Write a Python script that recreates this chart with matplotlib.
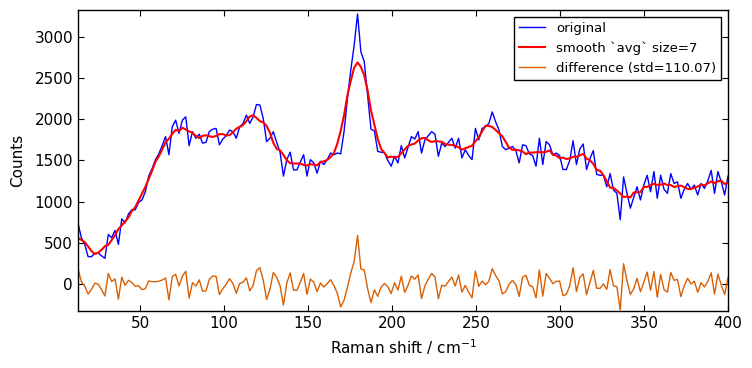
import numpy as np
import matplotlib
matplotlib.use('Agg')
from matplotlib import pyplot as plt

# raw spectrum, one value every ~2 cm-1 from 13 to 400
original = [
    740, 560, 480, 330, 330, 370, 375, 340, 310, 600,
    560, 650, 480, 790, 740, 850, 900, 900, 990, 1020,
    1120, 1310, 1400, 1510, 1580, 1680, 1790, 1570, 1910, 1990,
    1830, 1990, 2030, 1680, 1850, 1770, 1820, 1710, 1720, 1850,
    1880, 1890, 1690, 1760, 1800, 1870, 1850, 1770, 1910, 1950,
    2050, 1950, 2030, 2180, 2175, 2010, 1730, 1770, 1850, 1720,
    1600, 1310, 1510, 1600, 1385, 1385, 1480, 1570, 1310, 1510,
    1470, 1345, 1490, 1450, 1510, 1590, 1570, 1590, 1580, 1850,
    2250, 2600, 2900, 3280, 2820, 2700, 2290, 1880, 1860, 1610,
    1600, 1595, 1500, 1430, 1550, 1470, 1680, 1530, 1660, 1790,
    1760, 1850, 1590, 1750, 1800, 1850, 1820, 1550, 1710, 1670,
    1720, 1770, 1650, 1770, 1530, 1630, 1560, 1510, 1890, 1750,
    1890, 1910, 1950, 2090, 1970, 1870, 1670, 1630, 1650, 1670,
    1620, 1470, 1690, 1680, 1580, 1560, 1430, 1770, 1450, 1730,
    1690, 1570, 1590, 1560, 1390, 1390, 1500, 1740, 1450, 1640,
    1700, 1390, 1520, 1620, 1330, 1320, 1320, 1180, 1340, 1140,
    1100, 780, 1300, 1100, 920, 1050, 1180, 1020, 1200, 1320,
    1120, 1365, 1040, 1320, 1150, 1100, 1340, 1220, 1240, 1040,
    1150, 1220, 1150, 1200, 1080, 1220, 1160, 1250, 1380, 1100,
    1365, 1240, 1080, 1310,
]
shift = np.linspace(13, 400, len(original))
size = 7

original = np.array(original, dtype=float)
pad = size // 2
padded = np.pad(original, pad, mode='symmetric')
smooth = np.convolve(padded, np.ones(size) / size, mode='valid')
diff = original - smooth

fig = plt.figure(figsize=(7.52, 3.68), dpi=100)
ax = fig.add_axes([0.1037, 0.155, 0.8644, 0.818])
ax.plot(shift, original, color='b', lw=1, label='original')
ax.plot(shift, smooth, color='r', lw=1.5, label='smooth `avg` size=7')
ax.plot(shift, diff, color='#d95f02', lw=1, label='difference (std=110.07)')

ax.set_xlim(13, 400)
ax.set_ylim(-330, 3330)
ax.set_xticks([50, 100, 150, 200, 250, 300, 350, 400])
ax.set_yticks([0, 500, 1000, 1500, 2000, 2500, 3000])
ax.tick_params(direction='in', top=True, right=True, labelsize=11, length=4)
ax.set_xlabel('Raman shift / cm$^{-1}$', fontsize=11, labelpad=5)
ax.set_ylabel('Counts', fontsize=11, labelpad=7)
leg = ax.legend(loc='upper right', fontsize=9.5, fancybox=False,
                edgecolor='black', framealpha=1, handlelength=2)
leg.get_frame().set_linewidth(1)
for s in ax.spines.values():
    s.set_linewidth(1)

fig.savefig('out.png', dpi=100, facecolor='white')
